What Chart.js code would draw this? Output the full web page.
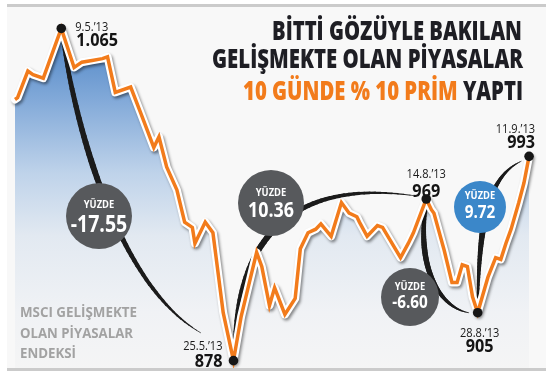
<!DOCTYPE html>
<html>
<head>
<meta charset="utf-8">
<script src="https://cdn.jsdelivr.net/npm/chart.js@4"></script>
<style>
html, body { margin: 0; padding: 0; background: #fff; }
canvas { display: block; }
</style>
</head>
<body>
<canvas id="chart" width="554" height="374"></canvas>
<script>
// MSCI Gelişmekte Olan Piyasalar endeksi - gün sırası ve kapanış değerleri
var gunler = [0, 1, 5, 7, 11, 18, 23, 26, 30, 34, 36, 39, 45, 49, 54, 56, 59, 63, 66, 69,
    70, 74, 77, 81, 85, 88, 94, 96, 99, 101, 105, 109, 111, 114, 117, 119, 123, 127, 130, 133,
    134, 137, 141, 143, 150, 153, 155, 160, 162, 163, 167, 170, 172, 174, 176, 178, 180, 184, 187, 189,
    191, 193, 196, 198, 200];
var degerler = [1025, 1026, 1041, 1039, 1037, 1065, 1043, 1046, 1047, 1048, 1049, 1029, 1032, 1017, 998, 1004, 987, 974, 956, 953,
    944, 956, 950, 905, 878, 903, 939, 931, 909, 919, 904, 913, 941, 950, 952, 955, 948, 967, 961, 959,
    956, 948, 954, 953, 936, 944, 950, 969, 963, 961, 940, 922, 922, 932, 931, 914, 905, 925, 936, 935,
    944, 952, 967, 978, 993];

// işaretli noktalar
var etiketGun = [18, 85, 160, 180, 200];
var etiketTarih = ['9.5.’13', '25.5.’13', '14.8.’13', '28.8.’13', '11.9.’13'];
var etiketDeger = [1065, 878, 969, 905, 993];

// iki nokta arasındaki yüzde değişimler
var yuzdeler = ['-17.55', '10.36', '-6.60', '9.72'];

var baslik1 = 'BİTTİ GÖZÜYLE BAKILAN';
var baslik2 = 'GELİŞMEKTE OLAN PİYASALAR';
var baslik3a = '10 GÜNDE % 10 PRİM ';
var baslik3b = 'YAPTI';
var endeksAdi = ['MSCI GELİŞMEKTE', 'OLAN PİYASALAR', 'ENDEKSİ'];

var TURUNCU = '#f27b1b';
var KOYU = '#1e1e24';

var noktalar = gunler.map(function(g, i) { return { x: g, y: degerler[i] }; });

function binlik(v) {
    if (v < 1000) return String(v);
    var k = v % 1000;
    return Math.floor(v / 1000) + '.' + (k < 10 ? '00' : k < 100 ? '0' : '') + k;
}

function dolgu(context) {
    var chart = context.chart;
    if (!chart.chartArea) return 'rgba(0,0,0,0)';
    var top = chart.scales.y.getPixelForValue(Math.max.apply(null, degerler));
    var g = chart.ctx.createLinearGradient(0, top, 0, chart.chartArea.bottom);
    g.addColorStop(0, '#4a82c4');
    g.addColorStop(0.2, '#80a8d8');
    g.addColorStop(0.42, '#bfd3ea');
    g.addColorStop(0.6, '#e2e9f1');
    g.addColorStop(0.82, '#f0f2f5');
    g.addColorStop(1, '#f5f5f5');
    return g;
}

// yatay sıkıştırılmış yazı
function yazi(ctx, str, x, y, font, color, align, sx, width) {
    ctx.save();
    ctx.font = font;
    if (width) sx = width / ctx.measureText(str).width;
    ctx.translate(x, y);
    ctx.scale(sx || 1, 1);
    ctx.textAlign = align;
    ctx.textBaseline = 'alphabetic';
    ctx.fillStyle = color;
    ctx.fillText(str, 0, 0);
    ctx.restore();
}

// uçlara doğru incelen kavis
function kavis(ctx, p, w) {
    var n = 60, prev = p[0];
    ctx.save();
    ctx.strokeStyle = '#1b1b1b';
    ctx.lineCap = 'round';
    for (var i = 1; i <= n; i++) {
        var t = i / n, u = 1 - t;
        var x = u*u*u*p[0][0] + 3*u*u*t*p[1][0] + 3*u*t*t*p[2][0] + t*t*t*p[3][0];
        var y = u*u*u*p[0][1] + 3*u*u*t*p[1][1] + 3*u*t*t*p[2][1] + t*t*t*p[3][1];
        var f = (t - 0.5 / n) * (w.length - 1);
        var k = Math.min(Math.floor(f), w.length - 2);
        ctx.lineWidth = w[k] + (w[k + 1] - w[k]) * (f - k);
        ctx.beginPath();
        ctx.moveTo(prev[0], prev[1]);
        ctx.lineTo(x, y);
        ctx.stroke();
        prev = [x, y];
    }
    ctx.restore();
}

function nokta(chart, i) {
    var j = gunler.indexOf(etiketGun[i]);
    return [chart.scales.x.getPixelForValue(gunler[j]), chart.scales.y.getPixelForValue(degerler[j])];
}

var infografik = {
    id: 'infografik',
    beforeDraw: function(chart) {
        var ctx = chart.ctx;
        ctx.save();
        ctx.fillStyle = '#f8f8f8';
        ctx.fillRect(7, 6, 539, 363);
        ctx.restore();
    },
    beforeDatasetDraw: function(chart, args) {
        if (args.index === 1) {
            var ctx = chart.ctx;
            ctx.save();
            ctx.shadowColor = 'rgba(0,0,0,0.45)';
            ctx.shadowBlur = 3;
            ctx.shadowOffsetX = 1.5;
            ctx.shadowOffsetY = 2;
        }
    },
    afterDatasetDraw: function(chart, args) {
        var ctx = chart.ctx;
        if (args.index === 1) ctx.restore();
        if (args.index === 2) {
            var a = nokta(chart, 0), b = nokta(chart, 1), c = nokta(chart, 2), d = nokta(chart, 3), e = nokta(chart, 4);
            kavis(ctx, [a, [a[0] + 14, a[1] + 102], [a[0] + 58, a[1] + 257], [b[0] - 33, b[1] - 28]], [3, 5, 6, 5, 3.5, 0.6]);
            kavis(ctx, [b, [b[0], b[1] - 121], [b[0] + 57, b[1] - 183], [c[0] - 10, c[1] - 3]], [1.2, 4, 6, 5, 3.5, 0.6]);
            kavis(ctx, [[c[0], c[1] + 4], [c[0] - 11, c[1] + 71], [c[0] + 15, c[1] + 109], [d[0] - 9, d[1]]], [3.5, 5.5, 5, 3, 0.6]);
            kavis(ctx, [d, [d[0] + 1, d[1] - 83], [d[0] + 8, d[1] - 135], [e[0] - 8, e[1] + 5]], [1.2, 4, 6, 5, 3, 0.6]);
        }
    },
    afterDatasetsDraw: function(chart) {
        var ctx = chart.ctx;
        var f = '"Open Sans", "DejaVu Sans", sans-serif';

        // noktalar
        for (var i = 0; i < etiketGun.length; i++) {
            var p = nokta(chart, i);
            ctx.beginPath();
            ctx.arc(p[0], p[1], 4.8, 0, Math.PI * 2);
            ctx.fillStyle = '#161616';
            ctx.fill();
        }

        // nokta etiketleri
        var pos = [
            [14, 3, 18, 'left'],
            [-11, -11, 6, 'right'],
            [0, -21, -2, 'center'],
            [2, 24, 39, 'center'],
            [6, -23, -8, 'right']
        ];
        for (var j = 0; j < etiketGun.length; j++) {
            var q = nokta(chart, j), o = pos[j];
            yazi(ctx, etiketTarih[j], q[0] + o[0], q[1] + o[1], '13px ' + f, '#1a1a1a', o[3], 0.85);
            yazi(ctx, binlik(etiketDeger[j]), q[0] + o[0] + (o[3] === 'left' ? 1 : 0), q[1] + o[2], 'bold 18px ' + f, '#141414', o[3], 0.9);
        }

        // yüzde daireleri
        var daireler = [
            [99, 216, 33, '#57595c', 23, -8, 16],
            [271, 203, 33, '#57595c', 21, -7, 14],
            [410, 297, 29, '#57595c', 18, -7, 11],
            [480, 207, 26, '#3b87c9', 18, -8, 11]
        ];
        for (var k = 0; k < daireler.length; k++) {
            var c = daireler[k];
            ctx.beginPath();
            ctx.arc(c[0], c[1], c[2], 0, Math.PI * 2);
            ctx.fillStyle = c[3];
            ctx.fill();
            yazi(ctx, 'YÜZDE', c[0], c[1] + c[5], 'bold 11px ' + f, '#ffffff', 'center', 0.85);
            yazi(ctx, yuzdeler[k], c[0], c[1] + c[6], 'bold ' + c[4] + 'px ' + f, '#ffffff', 'center', 0.85);
        }

        // başlık
        var tf = '800 26px ' + f;
        yazi(ctx, baslik1, 522, 40, tf, KOYU, 'right', 1, 250);
        yazi(ctx, baslik2, 523, 68, tf, KOYU, 'right', 1, 311);
        ctx.save();
        ctx.font = tf;
        var w1 = ctx.measureText(baslik3a).width, w2 = ctx.measureText(baslik3b).width;
        ctx.translate(523, 100);
        ctx.scale(280 / (w1 + w2), 1);
        ctx.textAlign = 'right';
        ctx.fillStyle = KOYU;
        ctx.fillText(baslik3b, 0, 0);
        ctx.fillStyle = TURUNCU;
        ctx.fillText(baslik3a, -w2, 0);
        ctx.restore();

        // endeks adı
        yazi(ctx, endeksAdi[0], 20, 317, 'bold 15px ' + f, '#a2a2a2', 'left', 1, 117);
        yazi(ctx, endeksAdi[1], 20, 338, 'bold 15px ' + f, '#a2a2a2', 'left', 1, 113);
        yazi(ctx, endeksAdi[2], 20, 358, 'bold 15px ' + f, '#a2a2a2', 'left', 1, 56);

        // çerçeve çizgileri
        ctx.save();
        ctx.fillStyle = '#ffffff';
        ctx.fillRect(0, 371, 554, 3);
        ctx.fillStyle = '#cbcbcb';
        ctx.fillRect(7, 4, 539, 3);
        ctx.fillRect(7, 368, 539, 3);
        ctx.restore();
    }
};

new Chart(document.getElementById('chart'), {
    type: 'line',
    data: {
        datasets: [{
            data: noktalar,
            borderColor: TURUNCU,
            borderWidth: 3.5,
            borderJoinStyle: 'miter',
            fill: false,
            pointRadius: 0,
            tension: 0
        }, {
            data: noktalar,
            borderColor: '#ffffff',
            borderWidth: 8,
            borderJoinStyle: 'round',
            borderCapStyle: 'round',
            fill: false,
            pointRadius: 0,
            tension: 0
        }, {
            data: noktalar,
            borderColor: 'rgba(0,0,0,0)',
            borderWidth: 0,
            fill: 'start',
            backgroundColor: dolgu,
            pointRadius: 0,
            tension: 0
        }]
    },
    options: {
        responsive: false,
        animation: false,
        events: [],
        layout: { padding: 0 },
        plugins: {
            legend: { display: false },
            tooltip: { enabled: false }
        },
        scales: {
            x: { type: 'linear', display: false, min: -5.84, max: 209.7 },
            y: { display: false, min: 870.5, max: 1081 }
        }
    },
    plugins: [infografik]
});
</script>
</body>
</html>
